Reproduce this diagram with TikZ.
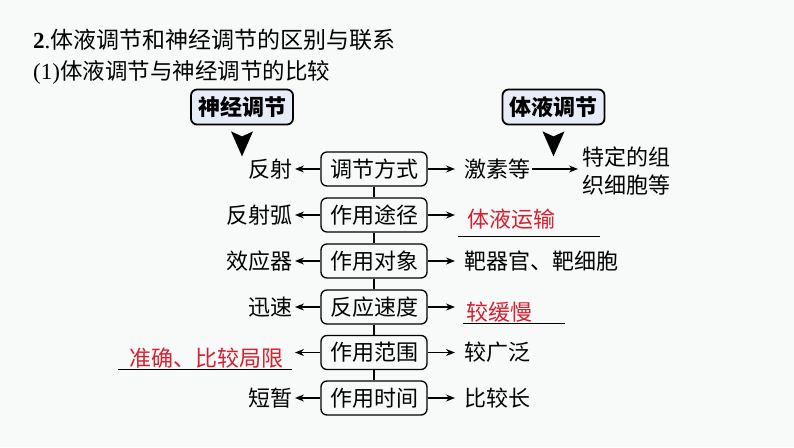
\documentclass[tikz,border=0pt]{standalone}
\usepackage{fontspec}
\setmainfont{Liberation Serif}
\newfontfamily\cjk{Noto Sans CJK SC}
\usetikzlibrary{arrows.meta}
\definecolor{bg}{RGB}{247,250,248}
\definecolor{hdr}{RGB}{230,237,248}
\definecolor{ans}{RGB}{214,32,48}
\begin{document}
\begin{tikzpicture}[x=1pt,y=-1pt,
  txt/.style={font=\cjk\fontsize{22}{26}\selectfont, inner sep=0pt},
  lefttxt/.style={txt, anchor=east, outer xsep=3pt},
  righttxt/.style={txt, anchor=west},
  redtxt/.style={txt, text=ans},
  item/.style={draw, line width=1.3pt, rounded corners=6pt, minimum width=106pt,
    minimum height=34pt, inner sep=0pt, font=\cjk\fontsize{22}{26}\selectfont},
  hdrbox/.style={draw, line width=1.8pt, rounded corners=6pt, fill=hdr,
    minimum width=102pt, minimum height=35pt, inner sep=0pt,
    font=\cjk\bfseries\fontsize{22}{26}\selectfont},
  arr/.style={-{Stealth[length=9pt,width=7pt]}, line width=1.2pt},
  link/.style={line width=1.3pt},
  blank/.style={line width=1pt},
  bigtip/.style={fill=black}]
\fill[bg] (0,0) rectangle (794,447);
\useasboundingbox (0,0) rectangle (794,447);

% title lines
\node[anchor=west, inner sep=0pt] (title) at (33,40)
  {\fontsize{23}{27}\selectfont\textbf{2}.\cjk\fontsize{23}{27}\selectfont 体液调节和神经调节的区别与联系};
\node[anchor=west, inner sep=0pt] (sub) at (33,72)
  {\fontsize{23}{27}\selectfont (1)\cjk\fontsize{22.5}{27}\selectfont 体液调节与神经调节的比较};

% headers
\node[hdrbox] (h1) at (242,107) {神经调节};
\node[hdrbox] (h2) at (553.5,107) {体液调节};
\fill[bigtip] ([yshift=-6]h1.south) ++(-11,0) -- ++(11,5) -- ++(11,-5) -- ++(-11,25) -- cycle;
\fill[bigtip] ([yshift=-6]h2.south) ++(-11,0) -- ++(11,5) -- ++(11,-5) -- ++(-11,25) -- cycle;

% centre column
\node[item] (c1) at (374,169) {调节方式};
\node[item] (c2) at (374,215) {作用途径};
\node[item] (c3) at (374,261) {作用对象};
\node[item] (c4) at (374,307) {反应速度};
\node[item] (c5) at (374,352.5) {作用范围};
\node[item] (c6) at (374,398) {作用时间};
\draw[link] (c1) -- (c2);
\draw[link] (c2) -- (c3);
\draw[link] (c3) -- (c4);
\draw[link] (c4) -- (c5);
\draw[link] (c5) -- (c6);

% left column
\node[lefttxt] (l1) at (295,169) {反射};
\node[lefttxt] (l2) at (295,215) {反射弧};
\node[lefttxt] (l3) at (295,261) {效应器};
\node[lefttxt] (l4) at (295,307) {迅速};
\coordinate (l5) at (295,352.5);
\node[lefttxt] (l6) at (295,398) {短暂};
\node[redtxt, anchor=east] (a3) at (284,358) {准确、比较局限};
\draw[blank] (118,369) -- (292,369);

\foreach \i in {1,2,3,4,5,6} \draw[arr] (c\i.west) -- (l\i);

% right column
\node[righttxt] (r1) at (464,169) {激素等};
\coordinate (r2) at (455,215);
\node[righttxt] (r3) at (464,261) {靶器官、靶细胞};
\coordinate (r4) at (455,307);
\node[righttxt] (r5) at (464,352.5) {较广泛};
\node[righttxt] (r6) at (464,398) {比较长};
\node[redtxt, anchor=west] (a1) at (467,219) {体液运输};
\draw[blank] (458,236) -- (600,236);
\node[redtxt, anchor=west] (a2) at (466,312) {较缓慢};
\draw[blank] (463,323) -- (565,323);

\draw[arr] (c1.east) -- ([xshift=-9]r1.west);
\draw[arr] (c2.east) -- (r2);
\draw[arr] (c3.east) -- ([xshift=-9]r3.west);
\draw[arr] (c4.east) -- (r4);
\draw[arr] (c5.east) -- ([xshift=-9]r5.west);
\draw[arr] (c6.east) -- ([xshift=-9]r6.west);

\node[txt, anchor=west, align=left, font=\cjk\fontsize{22}{28}\selectfont] (tgt) at (582,171)
  {特定的组\\织细胞等};
\draw[arr, shorten <=2pt, shorten >=4pt] (r1.east) -- (tgt.west |- r1.east);
\end{tikzpicture}
\end{document}
